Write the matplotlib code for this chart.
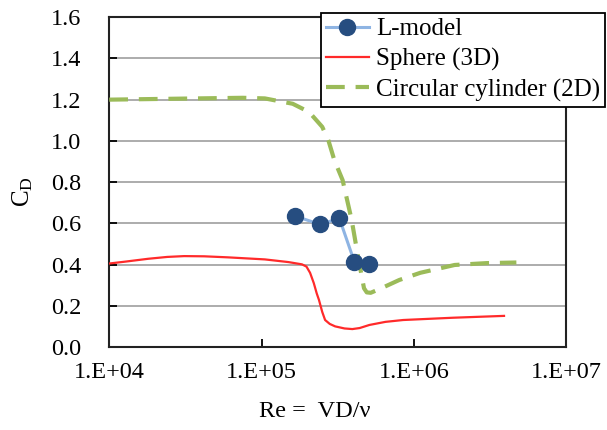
import math
import matplotlib
matplotlib.use("Agg")
import matplotlib.pyplot as plt
from matplotlib.ticker import FixedLocator, FuncFormatter, NullLocator

plt.rcParams['font.family'] = 'serif'
plt.rcParams['font.serif'] = ['Liberation Serif', 'DejaVu Serif']
plt.rcParams['mathtext.fontset'] = 'custom'
plt.rcParams['mathtext.rm'] = 'Liberation Serif'
plt.rcParams['mathtext.it'] = 'Liberation Serif:italic'

# L-model measurements
re_model = [1.66e5, 2.42e5, 3.24e5, 4.06e5, 5.03e5]
cd_model = [0.635, 0.595, 0.624, 0.414, 0.404]

# Sphere (3D) reference curve
re_sphere = [1.0e4, 1.3e4, 1.8e4, 2.4e4, 3.1e4, 4.2e4, 6.0e4, 1.05e5, 1.5e5,
             1.84e5, 1.97e5, 2.08e5, 2.2e5, 2.3e5, 2.38e5, 2.5e5, 2.61e5,
             2.8e5, 3.04e5, 3.5e5, 3.94e5, 4.4e5, 5.1e5, 6.5e5, 8.5e5,
             1.8e6, 3.9e6]
cd_sphere = [0.405, 0.415, 0.428, 0.437, 0.441, 0.440, 0.435, 0.425, 0.412,
             0.401, 0.39, 0.36, 0.31, 0.26, 0.228, 0.17, 0.131,
             0.112, 0.10, 0.09, 0.087, 0.092, 0.107, 0.122, 0.131,
             0.142, 0.151]

# Circular cylinder (2D) reference curve
re_cyl = [1.0e4, 3.0e4, 7.5e4, 1.05e5, 1.6e5, 2.05e5, 2.5e5, 2.75e5, 3.0e5,
          3.4e5, 3.9e5, 4.3e5, 4.55e5, 4.7e5, 4.9e5, 5.2e5, 6.1e5, 8e5,
          1.1e6, 1.85e6, 3e6, 4.7e6]
cd_cyl = [1.20, 1.205, 1.209, 1.206, 1.18, 1.14, 1.068, 1.0, 0.907,
          0.81, 0.616, 0.436, 0.34, 0.285, 0.265, 0.263, 0.285, 0.325,
          0.36, 0.398, 0.407, 0.41]

xticks = [1e4, 1e5, 1e6, 1e7]
yticks = [0.0, 0.2, 0.4, 0.6, 0.8, 1.0, 1.2, 1.4, 1.6]

fig = plt.figure(figsize=(6.07, 4.30), dpi=100)
ax = fig.add_axes([0.180, 0.193, 0.753, 0.767])

ax.plot(re_model, cd_model, color='#8EB4E3', lw=2.2, marker='o', ms=11.5,
        mfc='#264D80', mec='#264D80', label='L-model', zorder=4)
ax.plot(re_sphere, cd_sphere, color='#FF2A2A', lw=1.6, label='Sphere (3D)', zorder=3)
ax.plot(re_cyl, cd_cyl, color='#9BBB59', lw=3, dashes=(4.5, 2.6),
        label='Circular cylinder (2D)', zorder=3)

ax.set_xscale('log')
ax.set_xlim(1e4, 1e7)
ax.set_ylim(0, 1.6)
ax.xaxis.set_major_locator(FixedLocator(xticks))
ax.xaxis.set_minor_locator(NullLocator())
ax.xaxis.set_major_formatter(FuncFormatter(lambda v, p: '1.E+%02d' % round(math.log10(v))))
ax.set_yticks(yticks)
ax.yaxis.set_major_formatter(FuncFormatter(lambda v, p: '%.1f' % v))
ax.yaxis.grid(True, color='#A6A6A6', lw=1.3)
ax.set_axisbelow(True)
ax.tick_params(direction='in', length=6, width=1.3, labelsize=17.5, color='black')
ax.tick_params(axis='y', pad=20)
ax.tick_params(axis='x', pad=11)
for s in ax.spines.values():
    s.set_linewidth(1.5)
    s.set_color('#222222')

ax.set_ylabel('C$_\\mathrm{D}$', fontsize=18)
ax.yaxis.set_label_coords(-0.162, 0.47)
ax.set_xlabel('Re =  VD/\u03bd', fontsize=17.5)
ax.xaxis.set_label_coords(0.45, -0.165)

leg = ax.legend(loc='upper left', bbox_to_anchor=(0.529, 0.970),
                bbox_transform=fig.transFigure, borderaxespad=0, fontsize=18,
                frameon=True, fancybox=False, framealpha=1, edgecolor='black',
                handlelength=1.7, handletextpad=0.3, borderpad=0.2, labelspacing=0.3)
leg.get_frame().set_linewidth(1.3)

fig.savefig('out.png', dpi=100)
